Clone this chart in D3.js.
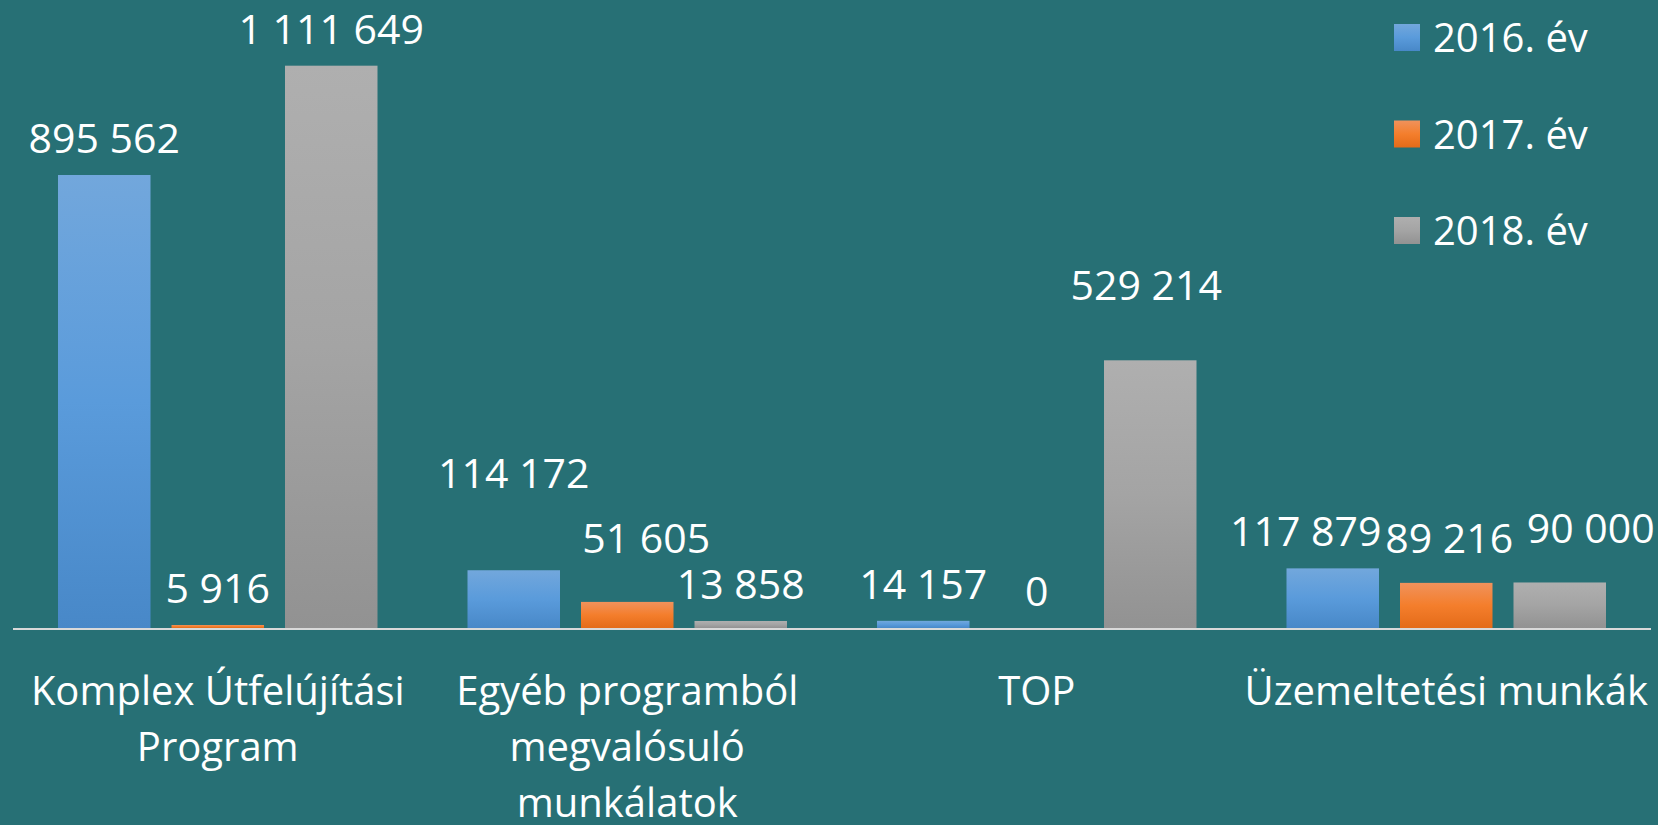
<!DOCTYPE html>
<html>
<head>
<meta charset="utf-8">
<script src="https://cdn.jsdelivr.net/npm/d3@7"></script>
<style>
    html, body { margin: 0; padding: 0; background: #277075; }
    #chart { width: 1658px; height: 825px; }
    text { font-family: "Open Sans", "Noto Sans", sans-serif; fill: #ffffff; }
</style>
</head>
<body>
<div id="chart"></div>
<script>
    // chart values
    const categories = [
        "Komplex Útfelújítási Program",
        "Egyéb programból megvalósuló munkálatok",
        "TOP",
        "Üzemeltetési munkák"
    ];
    const seriesNames = ["2016. év", "2017. év", "2018. év"];
    const values2016 = [895562, 114172, 14157, 117879];
    const values2017 = [5916, 51605, 0, 89216];
    const values2018 = [1111649, 13858, 529214, 90000];

    const width = 1658;
    const height = 825;
    const margin = { left: 13, right: 7, top: 21, bottom: 197 };
    const fontSize = 41;
    const catFontSize = 40;

    // gradient stops per series (top, middle, bottom)
    const seriesColors = [
        ["#72a7dc", "#5a9bdb", "#4888c8"],
        ["#f0925c", "#f47e2c", "#e46b19"],
        ["#afafaf", "#a4a4a4", "#929292"]
    ];

    // label nudges where excel moved the labels apart [series][category] -> [dx, dy]
    const labelNudge = [
        [[0, 0], [0, -60], [0, 0], [-27, 0]],
        [[0, 0], [19, -27], [0, 0], [3, -8]],
        [[0, 0], [0, 0], [-4, -38], [31, -17]]
    ];

    const seriesValues = [values2016, values2017, values2018];
    const rows = [];
    seriesValues.forEach((vals, s) => {
        vals.forEach((v, c) => rows.push({ s: s, c: c, value: v }));
    });

    const fmt = d3.formatLocale({ decimal: ",", thousands: " ", grouping: [3], currency: ["", ""] }).format(",d");

    const svg = d3.select("#chart").append("svg")
        .attr("width", width)
        .attr("height", height);

    const defs = svg.append("defs");
    seriesColors.forEach((stops, i) => {
        const g = defs.append("linearGradient")
            .attr("id", "grad" + i)
            .attr("x1", 0).attr("y1", 0)
            .attr("x2", 0).attr("y2", 1);
        g.append("stop").attr("offset", "0%").attr("stop-color", stops[0]);
        g.append("stop").attr("offset", "50%").attr("stop-color", stops[1]);
        g.append("stop").attr("offset", "100%").attr("stop-color", stops[2]);
    });

    const baseY = height - margin.bottom;

    const x0 = d3.scaleBand()
        .domain(d3.range(categories.length))
        .range([margin.left, width - margin.right])
        .padding(0);

    const x1 = d3.scaleBand()
        .domain(d3.range(seriesNames.length))
        .range([45, x0.bandwidth() - 45])
        .paddingInner(0.185);

    const y = d3.scaleLinear()
        .domain([0, 1200000])
        .range([baseY, margin.top]);

    // bars
    svg.append("g")
        .selectAll("rect")
        .data(rows)
        .join("rect")
        .attr("x", d => x0(d.c) + x1(d.s))
        .attr("y", d => y(d.value))
        .attr("width", x1.bandwidth())
        .attr("height", d => baseY - y(d.value))
        .attr("fill", d => `url(#grad${d.s})`);

    // baseline
    svg.append("line")
        .attr("x1", margin.left)
        .attr("x2", width - margin.right)
        .attr("y1", baseY + 1)
        .attr("y2", baseY + 1)
        .attr("stroke", "#d9d9d9")
        .attr("stroke-width", 2);

    // data labels
    svg.append("g")
        .selectAll("text")
        .data(rows)
        .join("text")
        .attr("x", d => x0(d.c) + x1(d.s) + x1.bandwidth() / 2 + labelNudge[d.s][d.c][0])
        .attr("y", d => y(d.value) - 22 + labelNudge[d.s][d.c][1])
        .attr("text-anchor", "middle")
        .attr("font-size", fontSize)
        .text(d => fmt(d.value));

    // category labels, wrapped to the band width
    const catLabels = svg.append("g")
        .selectAll("text")
        .data(categories)
        .join("text")
        .attr("x", (d, i) => x0(i) + x0.bandwidth() / 2)
        .attr("y", baseY + 77)
        .attr("text-anchor", "middle")
        .attr("font-size", catFontSize);

    catLabels.each(function(d) {
        const text = d3.select(this);
        const words = d.split(" ");
        const maxW = x0.bandwidth() + 4;
        let line = [];
        let tspan = text.append("tspan").attr("x", text.attr("x")).attr("dy", 0);
        for (let w of words) {
            line.push(w);
            tspan.text(line.join(" "));
            if (tspan.node().getComputedTextLength() > maxW && line.length > 1) {
                line.pop();
                tspan.text(line.join(" "));
                line = [w];
                tspan = text.append("tspan").attr("x", text.attr("x")).attr("dy", 56).text(w);
            }
        }
    });

    // legend
    const legend = svg.append("g")
        .selectAll("g")
        .data(seriesNames)
        .join("g")
        .attr("transform", (d, i) => `translate(1394, ${24 + i * 96.5})`);

    legend.append("rect")
        .attr("width", 26)
        .attr("height", 27)
        .attr("fill", (d, i) => `url(#grad${i})`);

    legend.append("text")
        .attr("x", 39)
        .attr("y", 28)
        .attr("font-size", catFontSize)
        .text(d => d);
</script>
</body>
</html>
